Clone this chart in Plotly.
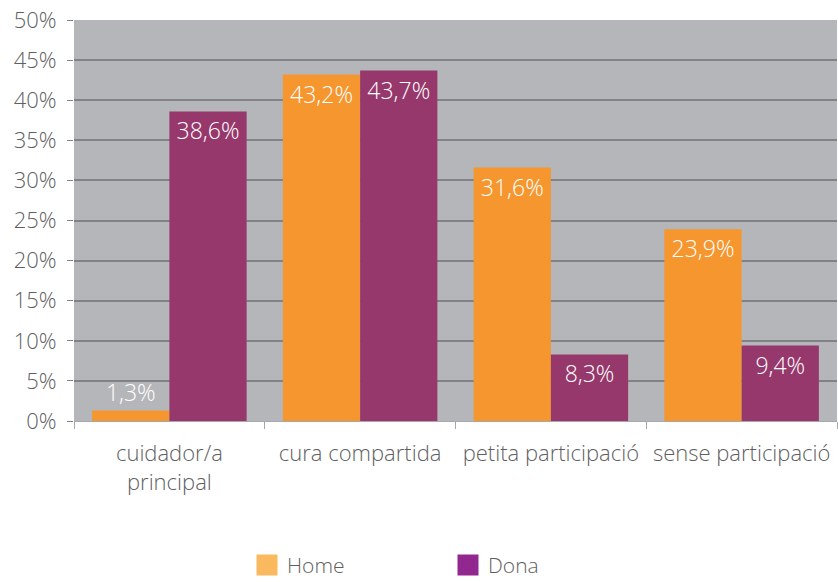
import plotly.graph_objects as go

categories = ["cuidador/a<br>principal", "cura compartida", "petita participació", "sense participació"]
home = [1.3, 43.2, 31.6, 23.9]
dona = [38.6, 43.7, 8.3, 9.4]
tick_vals = [0, 5, 10, 15, 20, 25, 30, 35, 40, 45, 50]
tick_text = [f"{v}%" for v in tick_vals]

FONT = "Open Sans"
GREY_TXT = "#5f5f62"


def fmt(v):
    return f"{v:.1f}%".replace(".", ",")


fig = go.Figure()
fig.add_trace(go.Bar(x=categories, y=home, name="Home", marker_color="#f5962e",
                     text=[fmt(v) for v in home], textposition="auto",
                     insidetextanchor="end", showlegend=False))
fig.add_trace(go.Bar(x=categories, y=dona, name="Dona", marker_color="#96386c",
                     text=[fmt(v) for v in dona], textposition="auto",
                     insidetextanchor="end", showlegend=False))

# legend swatches (lighter colours, like the original)
fig.add_trace(go.Scatter(x=[None], y=[None], mode="markers", name="Home",
                         marker=dict(symbol="square", size=25, color="#fbb95f",
                                     line=dict(width=5, color="#fbb95f"))))
fig.add_trace(go.Scatter(x=[None], y=[None], mode="markers", name="Dona",
                         marker=dict(symbol="square", size=25, color="#92278f",
                                     line=dict(width=5, color="#92278f"))))

fig.update_traces(textfont=dict(color="white", size=23, family=FONT, weight=300),
                  cliponaxis=False, marker_line_width=0, selector=dict(type="bar"))

fig.update_layout(
    width=838, height=582,
    margin=dict(l=74, r=1, t=20, b=161, autoexpand=False),
    paper_bgcolor="white",
    plot_bgcolor="#b5b6b9",
    barmode="group",
    bargap=0.19,
    bargroupgap=0,
    font=dict(family=FONT, color=GREY_TXT, size=21, weight=300),
    legend=dict(orientation="h", x=247 / 838, xanchor="left", xref="container",
                y=0.064, yanchor="top", yref="container",
                font=dict(size=21, color=GREY_TXT), entrywidth=156,
                itemsizing="trace"),
)
fig.update_yaxes(range=[0, 50], tickvals=tick_vals, ticktext=tick_text,
                 gridcolor="#828286", gridwidth=1.5, ticks="outside", ticklen=6,
                 tickcolor="#828286", showline=False, zeroline=False,
                 automargin=False, ticklabelstandoff=6,
                 tickfont=dict(size=22, color=GREY_TXT))
fig.update_xaxes(ticks="outside", tickson="boundaries", ticklen=7,
                 tickcolor="#a8a8ac", showline=True, linecolor="#a8a8ac",
                 automargin=False, ticklabelstandoff=13,
                 tickfont=dict(size=22, color=GREY_TXT))

fig.write_html("out.html", config={"displayModeBar": False},
               post_script="document.body.style.margin='0';")
